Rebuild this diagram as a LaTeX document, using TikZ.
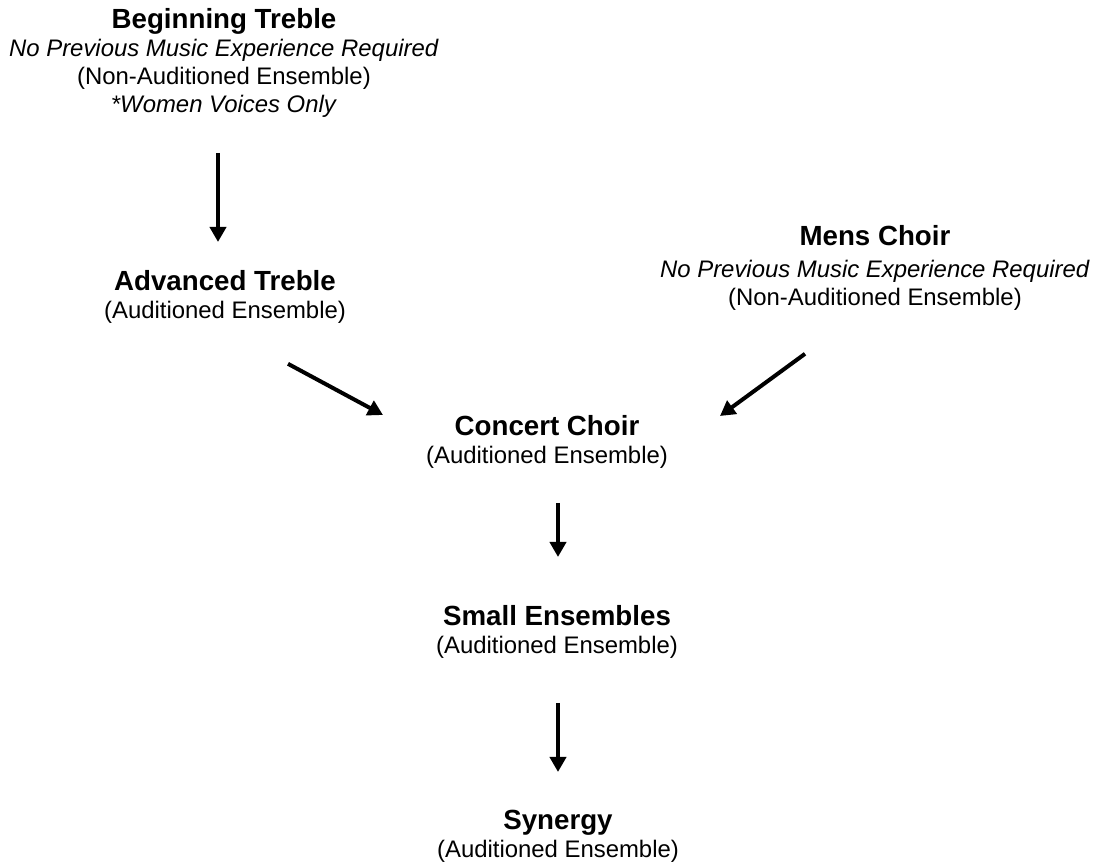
\documentclass[tikz,border=0pt]{standalone}
\usepackage{fontspec}
\setmainfont{Liberation Sans}
\usetikzlibrary{arrows.meta}

\newcommand{\enstitle}[1]{{\fontsize{13.85}{14}\selectfont\bfseries #1}}

\tikzset{
  ensemble/.style={anchor=north, align=center, inner sep=0pt, font=\fontsize{11.95}{14}\selectfont},
  flow/.style={-{Triangle[width=8pt, length=7.5pt]}, line width=2pt},
}

\begin{document}
\begin{tikzpicture}[x=0.5pt, y=-0.5pt]
  \useasboundingbox (0,0) rectangle (1099,865);

  % Treble choirs
  \node[ensemble] (begtreble) at (224, 8) {\enstitle{Beginning Treble}\\\textit{No Previous Music Experience Required}\\(Non-Auditioned Ensemble)\\\textit{*Women Voices Only}};
  \node[ensemble] (advtreble) at (225, 270) {\enstitle{Advanced Treble}\\(Auditioned Ensemble)};

  % Mens choir
  \node[ensemble] (mens) at (875, 225) {\enstitle{Mens Choir}\\[2pt]\textit{No Previous Music Experience Required}\\(Non-Auditioned Ensemble)};

  % Auditioned path
  \node[ensemble] (concert) at (547, 415) {\enstitle{Concert Choir}\\(Auditioned Ensemble)};
  \node[ensemble] (small) at (557, 605) {\enstitle{Small Ensembles}\\(Auditioned Ensemble)};
  \node[ensemble] (synergy) at (558, 810) {\enstitle{Synergy}\\(Auditioned Ensemble)};

  % Arrows
  \draw[flow] ([shift={(-6,35)}]begtreble.south) -- ([shift={(-7,-28)}]advtreble.north);
  \draw[flow] ([shift={(63,40)}]advtreble.south) -- ([shift={(-164,0)}]concert.north);
  \draw[flow] ([shift={(-70,43)}]mens.south) -- ([shift={(173,1)}]concert.north);
  \draw[flow] ([shift={(11,34)}]concert.south) -- ([shift={(1,-48)}]small.north);
  \draw[flow] ([shift={(1,44)}]small.south) -- ([shift={(0,-38)}]synergy.north);
\end{tikzpicture}
\end{document}
